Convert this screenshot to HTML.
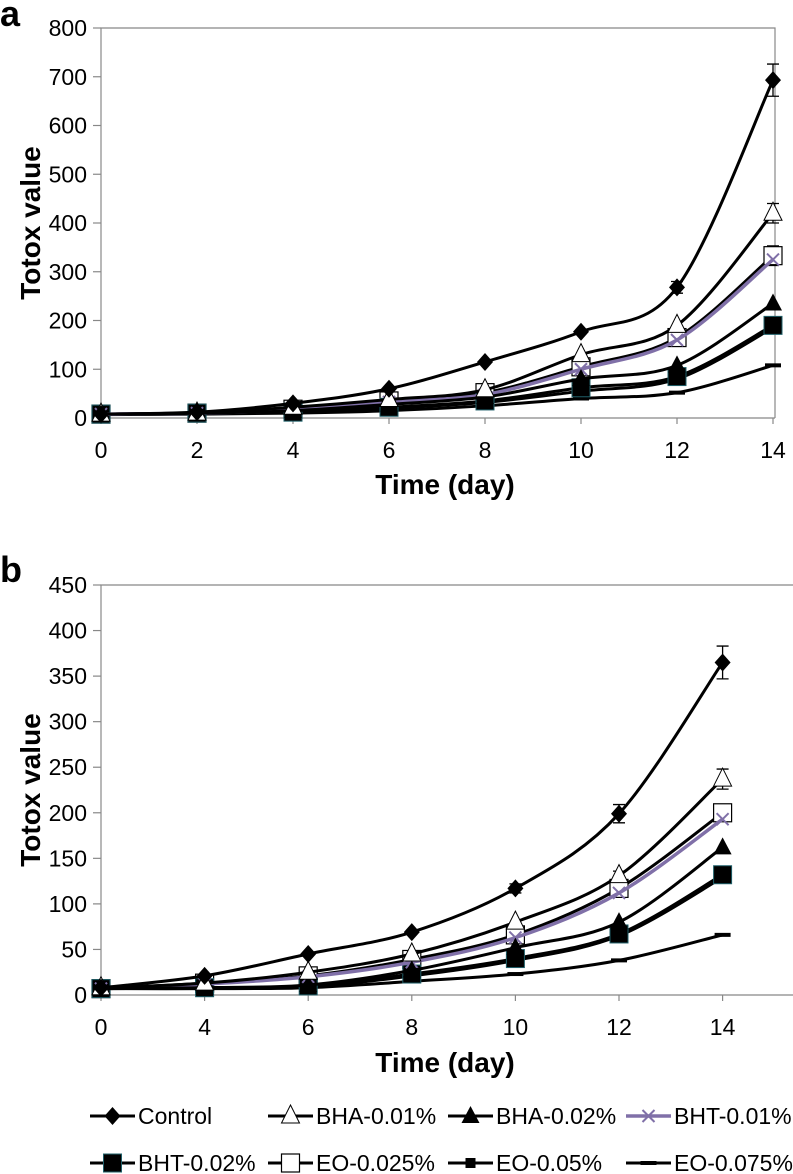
<!DOCTYPE html>
<html><head><meta charset="utf-8"><style>
html,body{margin:0;padding:0;background:#fff;}
svg{display:block;font-family:"Liberation Sans",sans-serif;}
</style></head><body>
<svg id="fig" width="793" height="1174" viewBox="0 0 793 1174"></svg>
<script>
// ---- Panel a data ----
const daysA = [0,2,4,6,8,10,12,14];
const yTicksA = [0,100,200,300,400,500,600,700,800];
const aControl = [8,12,30,60,115,177,268,693];
const aBHA001 = [8,10,22,38,58,130,190,420];
const aBHA002 = [8,10,15,28,43,80,108,235];
const aBHT001 = [8,10,17,33,48,100,160,325];
const aBHT002 = [8,10,12,22,35,62,85,190];
const aEO0025 = [8,10,18,35,52,105,165,333];
const aEO005 = [8,10,12,20,32,55,80,185];
const aEO0075 = [7,8,10,15,25,40,52,108];
const aErrControl = [0,0,0,0,0,0,12,33];
const aErrBHA001 = [0,0,0,0,0,0,0,20];
const aErrEO0025 = [0,0,0,0,0,0,0,20];
// ---- Panel b data ----
const daysB = [0,4,6,8,10,12,14];
const yTicksB = [0,50,100,150,200,250,300,350,400,450];
const bControl = [8,21,45,69,117,199,365];
const bBHA001 = [8,13,25,45,80,131,237];
const bBHA002 = [7,8,11,27,52,80,162];
const bBHT001 = [7,12,20,36,63,112,193];
const bBHT002 = [7,8,10,23,40,67,132];
const bEO0025 = [7,13,21,39,66,117,200];
const bEO005 = [7,8,9,21,38,65,129];
const bEO0075 = [7,7,8,15,23,38,66];
const bErrControl = [0,0,0,0,5,10,18];
const bErrBHA001 = [0,0,0,0,0,5,11];
const seriesNames = ["Control","BHA-0.01%","BHA-0.02%","BHT-0.01%","BHT-0.02%","EO-0.025%","EO-0.05%","EO-0.075%"];

const NS="http://www.w3.org/2000/svg";
const svg=document.getElementById('fig');
function mk(tag,attrs,parent){const e=document.createElementNS(NS,tag);for(const k in attrs)e.setAttribute(k,attrs[k]);(parent||svg).appendChild(e);return e;}
function smooth(pts){
  let d=`M${pts[0][0]},${pts[0][1]}`;
  for(let i=0;i<pts.length-1;i++){
    const p0=pts[i-1]||pts[i],p1=pts[i],p2=pts[i+1],p3=pts[i+2]||p2;
    const c1=[p1[0]+(p2[0]-p0[0])/6,p1[1]+(p2[1]-p0[1])/6];
    const c2=[p2[0]-(p3[0]-p1[0])/6,p2[1]-(p3[1]-p1[1])/6];
    d+=` C${c1[0]},${c1[1]} ${c2[0]},${c2[1]} ${p2[0]},${p2[1]}`;
  }
  return d;
}
function marker(g,type,x,y){
  let m;
  if(type==='diamond') m=mk('path',{d:`M${x},${y-9}L${x+8},${y}L${x},${y+9}L${x-8},${y}Z`,fill:'#000'},g);
  else if(type==='otri') m=mk('path',{d:`M${x},${y-11}L${x+9},${y+7}L${x-9},${y+7}Z`,fill:'#fff',stroke:'#000','stroke-width':1},g);
  else if(type==='ftri') m=mk('path',{d:`M${x},${y-10}L${x+9},${y+7}L${x-9},${y+7}Z`,fill:'#000'},g);
  else if(type==='cross') m=mk('path',{d:`M${x-6},${y-6}L${x+6},${y+6}M${x-6},${y+6}L${x+6},${y-6}`,stroke:'#8070a8','stroke-width':2},g);
  else if(type==='fsq') m=mk('rect',{x:x-9,y:y-9,width:18,height:18,fill:'#000',stroke:'#20606a','stroke-width':1},g);
  else if(type==='osq') m=mk('rect',{x:x-9,y:y-9,width:18,height:18,fill:'#fff',stroke:'#000','stroke-width':1.2},g);
  else if(type==='ssq') m=mk('rect',{x:x-5,y:y-5,width:10,height:10,fill:'#000'},g);
  else if(type==='dash') m=mk('rect',{x:x-8,y:y-2,width:16,height:4,fill:'#000'},g);
  
  
}
const styles=[
 {type:'diamond',color:'#000',w:3},
 {type:'otri',color:'#000',w:3},
 {type:'ftri',color:'#000',w:3},
 {type:'cross',color:'#8070a8',w:3.5},
 {type:'fsq',color:'#000',w:3},
 {type:'osq',color:'#000',w:3},
 {type:'ssq',color:'#000',w:3},
 {type:'dash',color:'#000',w:3}
];
function panel(cfg){
  const g=mk('g',{});
  
  
  const X=i=>cfg.x0+i*cfg.dx;
  const Y=v=>cfg.y0-(v/cfg.ymax)*(cfg.y0-cfg.yTop);
  const ax=mk('path',{d:`M${cfg.x0},${cfg.y0}L${cfg.x0},${cfg.yTop}L${cfg.right},${cfg.yTop}`+(cfg.rightLine?`L${cfg.right},${cfg.y0}`:''),fill:'none',stroke:'#888','stroke-width':1.2},g);
  
  
  const xa=mk('line',{x1:cfg.x0,y1:cfg.y0,x2:cfg.right,y2:cfg.y0,stroke:'#888','stroke-width':1.2},g);
  
  
  cfg.yTicks.forEach(v=>{
    mk('line',{x1:cfg.x0-8,y1:Y(v),x2:cfg.x0,y2:Y(v),stroke:'#888','stroke-width':1.2},g);
    const t=mk('text',{x:cfg.x0-14,y:Y(v)+8,'text-anchor':'end','font-size':23,fill:'#000'},g);
    t.textContent=v;
    
    
  });
  cfg.days.forEach((d,i)=>{
    mk('line',{x1:X(i),y1:cfg.y0,x2:X(i),y2:cfg.y0+6,stroke:'#888','stroke-width':1.2},g);
    const t=mk('text',{x:X(i),y:cfg.y0+40,'text-anchor':'middle','font-size':23,fill:'#000'},g);
    t.textContent=d;
    
    
  });
  const yt=mk('text',{x:0,y:0,transform:`translate(${cfg.ytx},${(cfg.y0+cfg.yTop)/2}) rotate(-90)`,'text-anchor':'middle','font-size':28,'font-weight':'bold',fill:'#000'},g);
  yt.textContent='Totox value';
  
  
  const xt=mk('text',{x:445,y:cfg.xty,'text-anchor':'middle','font-size':28,'font-weight':'bold',fill:'#000'},g);
  xt.textContent='Time (day)';
  
  
  const pl=mk('text',{x:0,y:cfg.lety,'font-size':36,'font-weight':'bold',fill:'#000'},g);
  pl.textContent=cfg.letter;
  
  
  for(let s=cfg.series.length-1;s>=0;s--){
    const vals=cfg.series[s],st=styles[s];
    const sg=mk('g',{},g);
    
    
    const pts=vals.map((v,i)=>[X(i),Y(v)]);
    const ln=mk('path',{d:smooth(pts),fill:'none',stroke:st.color,'stroke-width':st.w},sg);
    
    
    const err=cfg.errs[s];
    if(err){err.forEach((e,i)=>{if(e>0){
      const x=X(i),y1=Y(vals[i]-e),y2=Y(vals[i]+e);
      const eb=mk('path',{d:`M${x},${y1}L${x},${y2}M${x-6},${y1}L${x+6},${y1}M${x-6},${y2}L${x+6},${y2}`,stroke:'#000','stroke-width':1.3,fill:'none'},sg);
      
      
    }});}
    pts.forEach(p=>marker(sg,st.type,p[0],p[1]));
  }
}
panel({name:'panel-a',letter:'a',lety:26,x0:101,dx:96,y0:418,yTop:28,ymax:800,right:775,rightLine:true,
  days:daysA,yTicks:yTicksA,ytx:40,xty:494,
  series:[aControl,aBHA001,aBHA002,aBHT001,aBHT002,aEO0025,aEO005,aEO0075],
  errs:[aErrControl,aErrBHA001,null,null,null,aErrEO0025,null,null]});
panel({name:'panel-b',letter:'b',lety:582,x0:101,dx:103.6,y0:995,yTop:585,ymax:450,right:793,rightLine:false,
  days:daysB,yTicks:yTicksB,ytx:40,xty:1072,
  series:[bControl,bBHA001,bBHA002,bBHT001,bBHT002,bEO0025,bEO005,bEO0075],
  errs:[bErrControl,bErrBHA001,null,null,null,null,null,null]});
const lg=mk('g',{});


const legX=[90,268,448,626];
const legY=[1116,1163];
seriesNames.forEach((n,i)=>{
  const x=legX[i%4],y=legY[Math.floor(i/4)],st=styles[i];
  const e=mk('g',{},lg);
  
  
  mk('line',{x1:x,y1:y,x2:x+45,y2:y,stroke:st.color,'stroke-width':st.w},e);
  marker(e,st.type,x+22.5,y);
  const t=mk('text',{x:x+48,y:y+8,'font-size':23,fill:'#000'},e);
  t.textContent=n;
});
</script>
</body></html>
